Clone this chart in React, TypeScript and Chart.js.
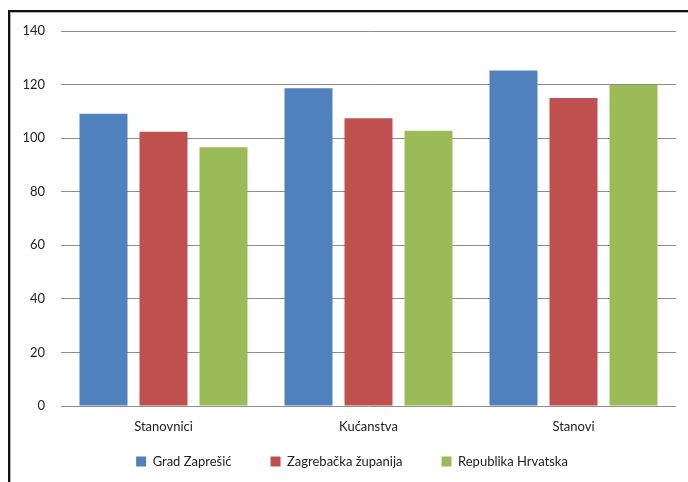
import React, { useEffect, useRef } from "react";
import { Chart, registerables } from "chart.js";

Chart.register(...registerables);

const categories = ["Stanovnici", "Kućanstva", "Stanovi"];
const gradZapresic = [109.1, 118.6, 125.3];
const zagrebackaZupanija = [102.4, 107.4, 115.0];
const republikaHrvatska = [96.6, 102.8, 119.8];
const seriesNames = ["Grad Zaprešić", "Zagrebačka županija", "Republika Hrvatska"];
const seriesColors = ["#4F81BD", "#C0504D", "#9BBB59"];

const FONT = "Lato, 'Liberation Sans', sans-serif";
const LEGEND_H = 40;
const LEGEND_SHIFT_Y = 20;
const LEGEND_SHIFT_X = 9;

const legendFix = {
  id: "legendFix",
  beforeLayout(chart: any) {
    const lg = chart.legend;
    if (lg && !lg.__patched) {
      const origFit = lg.fit;
      lg.fit = function () {
        origFit.call(this);
        this.height = LEGEND_H;
      };
      const origDraw = lg.draw;
      lg.draw = function () {
        const t = this.top, l = this.left, r = this.right;
        this.top = t - LEGEND_SHIFT_Y;
        this.left = l + LEGEND_SHIFT_X;
        this.right = r + LEGEND_SHIFT_X;
        origDraw.call(this);
        this.top = t;
        this.left = l;
        this.right = r;
      };
      lg.__patched = true;
    }
  },
};

export default function App() {
  const ref = useRef<HTMLCanvasElement | null>(null);

  useEffect(() => {
    if (!ref.current) return;
    const chart = new Chart(ref.current, {
      type: "bar",
      data: {
        labels: categories,
        datasets: [gradZapresic, zagrebackaZupanija, republikaHrvatska].map((d, i) => ({
          label: seriesNames[i],
          data: d,
          backgroundColor: seriesColors[i],
          borderWidth: 0,
          categoryPercentage: 0.878,
          barPercentage: 0.8,
        })),
      },
      options: {
        responsive: false,
        animation: false,
        maintainAspectRatio: false,
        layout: { padding: { left: 10, right: 12, top: 31, bottom: 6 } },
        plugins: {
          tooltip: { enabled: false },
          legend: {
            position: "bottom",
            labels: {
              boxWidth: 10,
              boxHeight: 10,
              padding: 39,
              color: "#222",
              font: { family: FONT, size: 13 },
            },
          },
        },
        scales: {
          x: {
            grid: { display: false, drawTicks: false },
            border: { display: false },
            ticks: { color: "#222", padding: 13, font: { family: FONT, size: 13 } },
            afterFit: (s: any) => {
              s.height = 30;
            },
          },
          y: {
            min: 0,
            max: 140,
            ticks: { stepSize: 20, color: "#222", padding: 16, font: { family: FONT, size: 13 } },
            grid: { color: "#8c8c8c", lineWidth: 1, drawTicks: false },
            border: { display: false },
            afterFit: (s: any) => {
              s.width = 51;
            },
          },
        },
      },
      plugins: [legendFix],
    });
    return () => chart.destroy();
  }, []);

  return (
    <div style={{ position: "fixed", left: 0, top: 0, width: 688, height: 482, overflow: "hidden", background: "#fff" }}>
      <canvas ref={ref} width={688} height={482} style={{ position: "absolute", left: 0, top: 0 }} />
      <div
        style={{
          position: "absolute",
          left: 8,
          top: 10,
          width: 690,
          height: 480,
          borderTop: "2px solid #111",
          borderLeft: "2px solid #111",
          boxShadow: "inset 1px 1px 0 #b0b0b0",
          pointerEvents: "none",
        }}
      />
    </div>
  );
}
